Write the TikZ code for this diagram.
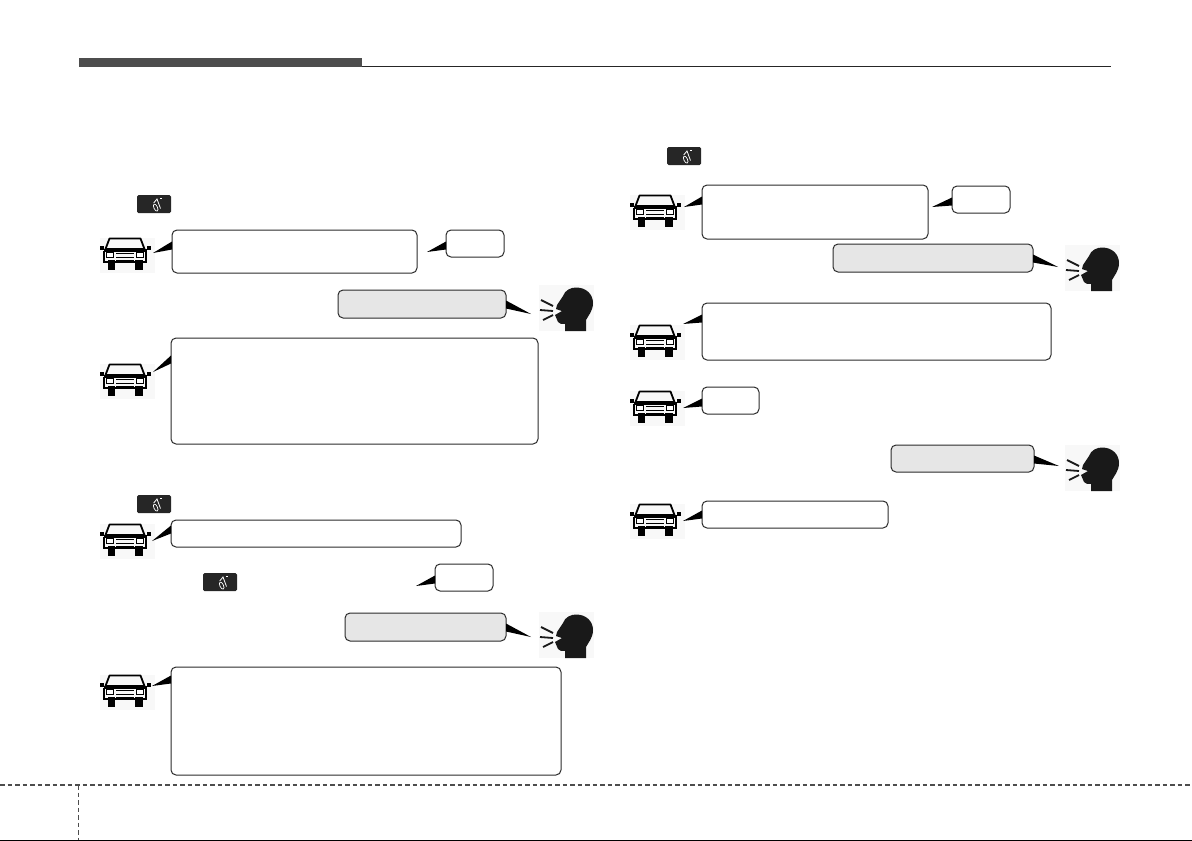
\documentclass[tikz,border=0pt]{standalone}
\usepackage{tikz}
\usetikzlibrary{calc}
\definecolor{darkrule}{HTML}{4D4D4D}
\definecolor{boxline}{HTML}{2B2B2B}
\definecolor{sayfill}{HTML}{E6E6E6}
\definecolor{picbg}{HTML}{F8F8F8}
% tail on the left side of a box, tip coordinate, box, offset below the top
\newcommand{\tailleft}[3]{\fill[black] (#1) -- ($(#2.north west)+(0.5,#3)$) -- ($(#2.north west)+(0.5,#3+8)$) -- cycle;}
% same, on the right side of a box
\newcommand{\tailright}[3]{\fill[black] (#1) -- ($(#2.north east)+(-0.5,#3)$) -- ($(#2.north east)+(-0.5,#3+8)$) -- cycle;}
\begin{document}
\begin{tikzpicture}[
	x=1pt,y=-1pt,
	textbox/.style={draw=boxline, line width=1pt, fill=white, rounded corners=5pt, anchor=north west, inner sep=0pt, xshift=-0.5pt, yshift=0.5pt},
	saybox/.style={textbox, fill=sayfill},
	car/.pic={
		\fill[picbg] (-27.5,-17.5) rectangle (27.5,17.5);
		% roof and windscreen
		\draw[black, line width=1.8pt, line join=round] (-18,-16.5) -- (13,-16.5) -- (17,-6) -- (-22,-6) -- cycle;
		% wheels
		\fill[black] (-19.5,5) rectangle (-13,14.5);
		\fill[black] (7,5) rectangle (15,14.5);
		% bonnet and body
		\fill[black] (-24,-6) rectangle (19,-3.5);
		\fill[black] (-24.5,-4) rectangle (-22.5,7);
		\fill[black] (17.5,-4) rectangle (19.5,7);
		\fill[black] (-24.5,6) rectangle (19.5,8.3);
		% lamps and grille
		\draw[black, line width=1pt, fill=white] (-21,-2.7) rectangle (-14.5,2);
		\draw[black, line width=1pt, fill=white] (9,-2.7) rectangle (15.5,2);
		\foreach \y in {-2,1.5,4.5} {\fill[black] (-12,\y) rectangle (6,\y+1.3);}
		% mirrors
		\fill[black] (-28,-9) rectangle (-24,-5.5);
		\fill[black] (19,-9) rectangle (23,-5.5);
	},
	head/.pic={
		\fill[picbg] (-27.5,-23) rectangle (27.5,23);
		\fill[black!90] (-3,-12) .. controls (-1,-18) and (5,-20.5) .. (10,-20.5) .. controls (20,-20.5) and (27,-14) .. (27,-5) .. controls (27,3) and (22,8) .. (20,12) -- (20,23) -- (-1,23) -- (-1,16) .. controls (-4,16) and (-7,16) .. (-8,14) -- (-11,7) -- (-4,3) -- (-10,1) -- (-9,-3) -- cycle;
		\draw[black!90, line width=1.8pt] (-25,-8) -- (-13,-2);
		\draw[black!90, line width=1.8pt] (-26,2) -- (-13,3);
		\draw[black!90, line width=1.8pt] (-23,12) -- (-13,7);
	},
	voicekey/.pic={
		\fill[black!85, rounded corners=1.5pt] (-17,-9) rectangle (17,9);
		\draw[white, line width=0.7pt, rotate=25] (0,4) ellipse (1.8 and 3.8);
		\draw[white, line width=0.8pt] (-0.3,-1) -- (3,-5) -- (6.5,4.5);
		\fill[white] (6,-6.5) rectangle (7.5,-5.5);
	},
	]
	\useasboundingbox (0,0) rectangle (1192,841);
	%Header and footer
	\fill[darkrule] (79,58) rectangle (362,67);
	\coordinate (ruleL) at (362,66.5);
	\coordinate (ruleR) at (1111,66.5);
	\draw[black!85, line width=0.9pt] (ruleL) -- (ruleR);
	\coordinate (footL) at (0,785);
	\coordinate (footR) at (1192,785);
	\coordinate (footT) at (78.5,785);
	\coordinate (footB) at (78.5,840);
	\draw[darkrule, line width=1.3pt, dash pattern=on 4.5pt off 3pt] (footL) -- (footR);
	\draw[darkrule, line width=1.3pt, dash pattern=on 4.5pt off 3pt] (footT) -- (footB);
	\fill[black] (0,840) rectangle (1192,841);

	%Left column
	\pic (key1) at (154,204) {voicekey};
	\pic (car1) at (127.5,255) {car};
	\node[textbox, minimum width=245pt, minimum height=43pt] (box1) at (172,230) {};
	\node[textbox, minimum width=58pt, minimum height=27pt] (bip1) at (446,230) {};
	\node[saybox, minimum width=168pt, minimum height=28pt] (say1) at (338,290) {};
	\pic (head1) at (566,308) {head};
	\pic (car2) at (127.5,381) {car};
	\node[textbox, minimum width=367pt, minimum height=106pt] (box2) at (171,338) {};
	\pic (key2) at (154,504) {voicekey};
	\pic (car3) at (127.5,541) {car};
	\node[textbox, minimum width=290pt, minimum height=27pt] (box3) at (171,520) {};
	\pic (key3) at (220,582) {voicekey};
	\node[textbox, minimum width=58pt, minimum height=27pt] (bip2) at (435,564) {};
	\node[saybox, minimum width=161pt, minimum height=28pt] (say2) at (345,613) {};
	\pic (head2) at (566,635) {head};
	\pic (car4) at (127.5,692) {car};
	\node[textbox, minimum width=390pt, minimum height=108pt] (box4) at (171,667) {};

	%Right column
	\pic (key4) at (684,156) {voicekey};
	\pic (car5) at (657.5,212) {car};
	\node[textbox, minimum width=226pt, minimum height=54pt] (box5) at (702,185) {};
	\node[textbox, minimum width=58pt, minimum height=27pt] (bip3) at (952,186) {};
	\node[saybox, minimum width=200pt, minimum height=28pt] (say3) at (833,244) {};
	\pic (head3) at (1092,268) {head};
	\pic (car6) at (657.5,342) {car};
	\node[textbox, minimum width=349pt, minimum height=57pt] (box6) at (702,303) {};
	\pic (car7) at (657.5,408) {car};
	\node[textbox, minimum width=57pt, minimum height=27pt] (bip4) at (702,387) {};
	\node[saybox, minimum width=143pt, minimum height=27pt] (say4) at (891,445) {};
	\pic (head4) at (1092,468) {head};
	\pic (car8) at (657.5,521) {car};
	\node[textbox, minimum width=186pt, minimum height=27pt] (box8) at (702,501) {};

	%Tips
	\coordinate (tip1) at (153,253);
	\coordinate (tip2) at (427,252);
	\coordinate (tip3) at (531,314);
	\coordinate (tip4) at (153,372);
	\coordinate (tip5) at (152,541);
	\coordinate (tip6) at (416,586);
	\coordinate (tip7) at (531,637);
	\coordinate (tip8) at (152,686);
	\coordinate (tip9) at (684,207);
	\coordinate (tip10) at (932,207);
	\coordinate (tip11) at (1058,267);
	\coordinate (tip12) at (683,324);
	\coordinate (tip13) at (683,408);
	\coordinate (tip14) at (1059,466);
	\coordinate (tip15) at (683,521);

	\tailleft{tip1}{box1}{12}
	\tailleft{tip2}{bip1}{12}
	\tailright{tip3}{say1}{11}
	\tailleft{tip4}{box2}{18}
	\tailleft{tip5}{box3}{6}
	\tailleft{tip6}{bip2}{12}
	\tailright{tip7}{say2}{11}
	\tailleft{tip8}{box4}{9}
	\tailleft{tip9}{box5}{12}
	\tailleft{tip10}{bip3}{12}
	\tailright{tip11}{say3}{11}
	\tailleft{tip12}{box6}{12}
	\tailleft{tip13}{bip4}{12}
	\tailright{tip14}{say4}{11}
	\tailleft{tip15}{box8}{10}
\end{tikzpicture}
\end{document}
